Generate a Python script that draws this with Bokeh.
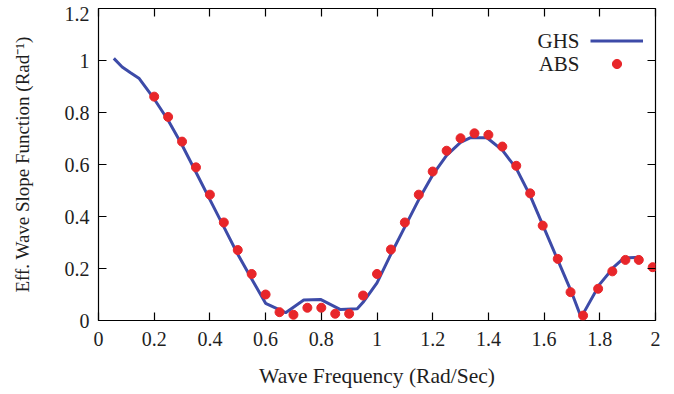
from bokeh.plotting import figure
from bokeh.models import Range1d, FixedTicker, LinearAxis, Legend, LegendItem, Label
from bokeh.embed import file_html
from bokeh.resources import INLINE

# GHS curve
ghs_x = [0.055, 0.085, 0.115, 0.145, 0.2, 0.25, 0.3, 0.35, 0.4, 0.45, 0.5, 0.55, 0.6,
         0.672, 0.737, 0.797, 0.869, 0.929, 0.95, 1.0, 1.05, 1.1, 1.15, 1.2, 1.25, 1.3,
         1.336, 1.395, 1.45, 1.5, 1.55, 1.6, 1.65, 1.7, 1.733, 1.8, 1.85, 1.886, 1.945]
ghs_y = [1.008, 0.975, 0.953, 0.932, 0.852, 0.77, 0.675, 0.57, 0.465, 0.36, 0.255, 0.16, 0.066,
         0.03, 0.079, 0.081, 0.042, 0.045, 0.07, 0.145, 0.255, 0.36, 0.465, 0.56, 0.635, 0.685,
         0.703, 0.703, 0.655, 0.585, 0.48, 0.355, 0.23, 0.105, 0.012, 0.14, 0.205, 0.24, 0.243]

# ABS points
abs_x = [0.2, 0.25, 0.3, 0.35, 0.4, 0.45, 0.5, 0.55, 0.6, 0.65, 0.7, 0.75, 0.8, 0.85, 0.9, 0.95,
         1.0, 1.05, 1.1, 1.15, 1.2, 1.25, 1.3, 1.35, 1.4, 1.45, 1.5, 1.55, 1.595, 1.649, 1.695,
         1.74, 1.794, 1.845, 1.892, 1.94, 1.99]
abs_y = [0.861, 0.783, 0.688, 0.589, 0.484, 0.377, 0.271, 0.179, 0.100, 0.032, 0.022, 0.049, 0.049,
         0.026, 0.026, 0.096, 0.179, 0.273, 0.377, 0.484, 0.573, 0.653, 0.701, 0.720, 0.714, 0.669,
         0.595, 0.489, 0.365, 0.237, 0.109, 0.019, 0.122, 0.189, 0.233, 0.233, 0.205]

x_ticks = [0, 0.2, 0.4, 0.6, 0.8, 1.0, 1.2, 1.4, 1.6, 1.8, 2.0]
y_ticks = [0, 0.2, 0.4, 0.6, 0.8, 1.0, 1.2]
x_tick_labels = {0: "0", 0.2: "0.2", 0.4: "0.4", 0.6: "0.6", 0.8: "0.8", 1.0: "1",
                 1.2: "1.2", 1.4: "1.4", 1.6: "1.6", 1.8: "1.8", 2.0: "2"}
# the top label "1.2" sits slightly below its tick in the reference (kept inside the page)
y_label_pos = [0, 0.2, 0.4, 0.6, 0.8, 1.0, 1.18]
y_tick_labels = {0: "0", 0.2: "0.2", 0.4: "0.4", 0.6: "0.6", 0.8: "0.8", 1.0: "1", 1.18: "1.2"}

FONT = "Liberation Serif"
BLUE = "#3d4ba8"
RED = "#e8262a"
TXT = "#1e1e1e"

p = figure(width=674, height=394, output_backend="svg", toolbar_location=None,
           x_range=Range1d(0, 2), y_range=Range1d(0, 1.2),
           min_border_left=98, min_border_right=19, min_border_top=8, min_border_bottom=74)
p.background_fill_color = "white"
p.border_fill_color = "white"
p.outline_line_color = "black"
p.outline_line_width = 1.2
p.xgrid.visible = False
p.ygrid.visible = False

line = p.line(ghs_x, ghs_y, line_color=BLUE, line_width=3)
pts = p.scatter(abs_x, abs_y, size=9, fill_color=RED, line_color=RED)

def style_axis(ax, ticks, labels=None):
    ax.ticker = FixedTicker(ticks=ticks)
    ax.axis_line_color = None
    ax.major_tick_in = 8
    ax.major_tick_out = 0
    ax.major_tick_line_color = "black"
    ax.major_tick_line_width = 1.2
    ax.minor_tick_line_color = None
    ax.major_label_text_font = FONT
    ax.major_label_text_color = TXT
    if labels is not None:
        ax.major_label_overrides = labels
        ax.major_label_text_font_size = "20px"
    else:
        ax.major_label_overrides = {t: "" for t in ticks}
        ax.major_label_text_font_size = "1px"
        ax.major_label_standoff = 0

xa = p.xaxis[0]
style_axis(xa, x_ticks, x_tick_labels)
xa.major_label_standoff = 11
xa.axis_label = "Wave Frequency (Rad/Sec)"

# inner left axis: tick marks only
ya = p.yaxis[0]
style_axis(ya, y_ticks)

# outer left axis: labels only
yl = LinearAxis()
style_axis(yl, y_label_pos, y_tick_labels)
yl.major_tick_line_color = None
yl.major_tick_in = 0
yl.major_label_standoff = 9
yl.axis_label = "Eff. Wave Slope Function (Rad⁻¹)"
p.add_layout(yl, "left")

for ax in (xa, yl):
    ax.axis_label_text_font = FONT
    ax.axis_label_text_font_style = "normal"
    ax.axis_label_text_color = TXT
xa.axis_label_text_font_size = "21.5px"
yl.axis_label_text_font_size = "19px"
xa.axis_label_standoff = 15
yl.axis_label_standoff = 29

top_ax = LinearAxis()
right_ax = LinearAxis()
style_axis(top_ax, x_ticks)
style_axis(right_ax, y_ticks)
p.add_layout(top_ax, "above")
p.add_layout(right_ax, "right")

legend = Legend(items=[LegendItem(label="", renderers=[line]),
                       LegendItem(label="", renderers=[pts])],
                location=(492, 245), orientation="vertical",
                glyph_width=53, glyph_height=23, label_height=23, label_width=0,
                label_standoff=0, spacing=0, padding=0, margin=0,
                background_fill_alpha=0, border_line_alpha=0)
p.add_layout(legend, "center")

for txt, yy in (("GHS", 280), ("ABS", 257)):
    p.add_layout(Label(x=481, y=yy, x_units="screen", y_units="screen", text=txt,
                       text_align="right", text_baseline="middle",
                       text_font=FONT, text_font_size="21px", text_color=TXT))

open("out.html", "w").write(file_html(p, INLINE))
